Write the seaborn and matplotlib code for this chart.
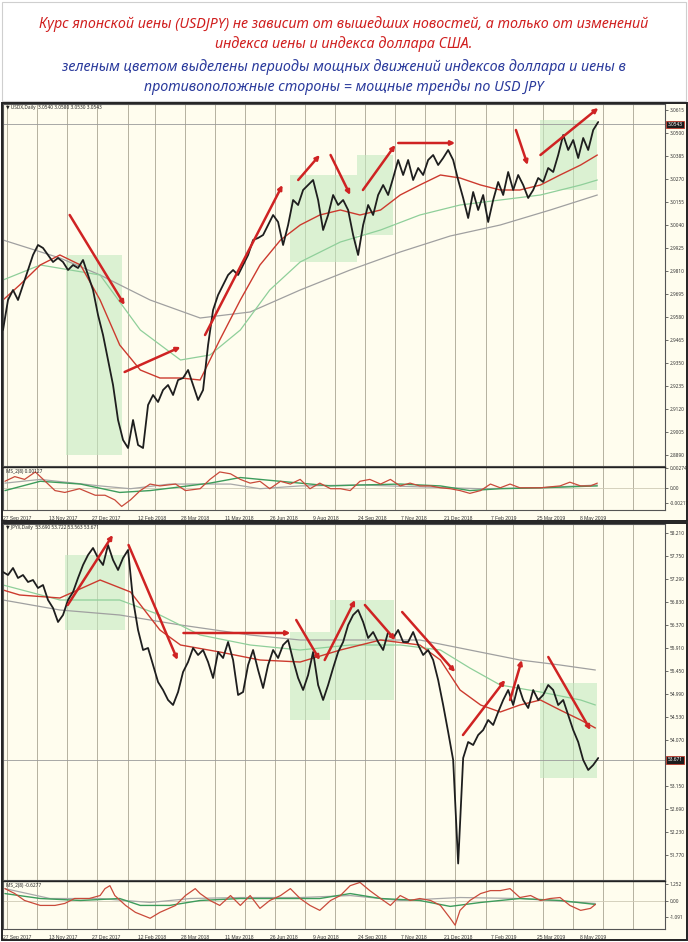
import numpy as np
import pandas as pd
import matplotlib.pyplot as plt
from matplotlib.patches import Rectangle
import seaborn as sns

sns.set_theme(style='white')
plt.rcParams['font.family'] = ['Noto Sans', 'DejaVu Sans']

# ---------------- тексты ----------------
title_red = ['Курс японской иены (USDJPY) не зависит от вышедших новостей, а только от изменений',
             'индекса иены и индекса доллара США.']
title_blue = ['зеленым цветом выделены периоды мощных движений индексов доллара и иены в',
              'противоположные стороны = мощные тренды по USD JPY']

date_labels = ['27 Sep 2017', '13 Nov 2017', '27 Dec 2017', '12 Feb 2018', '28 Mar 2018',
               '11 May 2018', '26 Jun 2018', '9 Aug 2018', '24 Sep 2018', '7 Nov 2018',
               '21 Dec 2018', '7 Feb 2019', '25 Mar 2019', '8 May 2019']
start_date = '2017-09-27'
price_step = 5.1  # дней между точками закрытия

# ---------------- верхний график: индекс доллара ----------------
usd_header = 'USDX,Daily  3.0540 3.0580 3.0530 3.0543'
usd_ind_header = 'MS_2(8) 0.00127'
usd_close = [2.9515, 2.9665, 2.9715, 2.9665, 2.9740, 2.9815, 2.9890, 2.9940, 2.9925, 2.9890,
             2.9855, 2.9875, 2.9855, 2.9815, 2.9840, 2.9825, 2.9865, 2.9790, 2.9715, 2.9590,
             2.9490, 2.9365, 2.9240, 2.9065, 2.8965, 2.8925, 2.9065, 2.8940, 2.8925, 2.9140,
             2.9190, 2.9155, 2.9215, 2.9240, 2.9190, 2.9265, 2.9275, 2.9315, 2.9240, 2.9165,
             2.9215, 2.9440, 2.9615, 2.9690, 2.9740, 2.9790, 2.9815, 2.9790, 2.9840, 2.9890,
             2.9965, 2.9975, 2.9990, 3.0040, 3.0090, 3.0055, 2.9940, 3.0040, 3.0165, 3.0140,
             3.0215, 3.0240, 3.0265, 3.0165, 3.0015, 3.0090, 3.0190, 3.0140, 3.0165, 3.0115,
             2.9990, 2.9890, 3.0040, 3.0140, 3.0090, 3.0190, 3.0240, 3.0190, 3.0275, 3.0365,
             3.0290, 3.0365, 3.0265, 3.0325, 3.0290, 3.0365, 3.0390, 3.0340, 3.0375, 3.0415,
             3.0365, 3.0265, 3.0175, 3.0075, 3.0205, 3.0115, 3.0190, 3.0055, 3.0165, 3.0255,
             3.0190, 3.0305, 3.0215, 3.0290, 3.0240, 3.0175, 3.0215, 3.0275, 3.0255, 3.0325,
             3.0305, 3.0390, 3.0490, 3.0415, 3.0465, 3.0375, 3.0475, 3.0415, 3.0515, 3.0555]
usd_last = 3.0543
usd_ma_red_days = [0, 17, 38, 58, 79, 99, 119, 140, 160, 181, 201, 221, 242, 262, 283, 303,
                   323, 344, 364, 385, 405, 425, 446, 466, 487, 507, 527, 548, 568, 589, 606]
usd_ma_red = [2.9665, 2.9740, 2.9840, 2.9890, 2.9840, 2.9665, 2.9440, 2.9315, 2.9275, 2.9275,
              2.9265, 2.9465, 2.9665, 2.9840, 2.9965, 3.0040, 3.0090, 3.0115, 3.0090, 3.0115,
              3.0190, 3.0240, 3.0290, 3.0275, 3.0240, 3.0215, 3.0215, 3.0240, 3.0290, 3.0340, 3.0390]
usd_ma_green_days = [0, 38, 99, 140, 181, 211, 242, 272, 303, 344, 385, 425, 466, 507, 548, 589, 606]
usd_ma_green = [2.9765, 2.9840, 2.9790, 2.9515, 2.9365, 2.9390, 2.9515, 2.9715, 2.9855,
                2.9955, 3.0015, 3.0090, 3.0140, 3.0165, 3.0190, 3.0240, 3.0265]
usd_ma_gray_days = [0, 58, 99, 150, 201, 252, 303, 354, 405, 456, 507, 558, 606]
usd_ma_gray = [2.9965, 2.9875, 2.9790, 2.9665, 2.9575, 2.9605, 2.9715, 2.9815, 2.9905,
               2.9985, 3.0040, 3.0115, 3.0190]
usd_ind_red_days = [2, 12, 22, 33, 43, 53, 63, 78, 94, 104, 114, 121, 130, 140, 150, 160, 176,
                    186, 201, 211, 221, 232, 242, 252, 262, 272, 283, 293, 303, 313, 323, 334,
                    344, 354, 364, 374, 385, 395, 405, 415, 425, 436, 446, 456, 466, 476, 487,
                    497, 507, 517, 527, 538, 548, 558, 568, 578, 589, 599, 606]
usd_ind_red = [0.00091, 0.00156, 0.00117, 0.00221, 0.00091, -0.00039, -0.00065, -0.00013,
               -0.00104, -0.00104, -0.00169, -0.0026, -0.00169, -0.00039, 0.00052, 0.00026,
               0.00052, -0.00039, -0.00013, 0.00117, 0.00221, 0.00195, 0.00117, 0.00065,
               0.00091, -0.00013, 0.00091, 0.00052, 0.00117, -0.00013, 0.00065, -0.00013,
               -0.00013, -0.00039, 0.00091, 0.00117, 0.00052, 0.00117, 0.00026, 0.00065,
               0.00026, 0.00026, 0.0, -0.00013, -0.00039, -0.00078, -0.00039, 0.00052, 0.0,
               0.00052, 0.0, 0.0, 0.0, 0.00013, 0.00026, 0.00078, 0.00026, 0.00026, 0.00065]
usd_ind_green_days = [2, 38, 79, 119, 150, 181, 211, 242, 272, 303, 334, 364, 405, 446, 476, 507, 548, 606]
usd_ind_green = [-0.00039, 0.00091, 0.00052, -0.00065, -0.00039, 0.00013, 0.00065, 0.00143,
                 0.00104, 0.00065, 0.00026, 0.00039, 0.00052, 0.00026, -0.00039, -0.00013, 0.0, 0.00026]
usd_ind_gray_days = [2, 38, 99, 130, 170, 232, 262, 303, 364, 425, 487, 548, 606]
usd_ind_gray = [0.00065, 0.00117, 0.00026, -0.00013, 0.00052, 0.00052, -0.00013, 0.00026,
                0.00039, 0.00013, -0.00013, 0.0, 0.00039]
usd_ticks = [3.0615 - 0.0115 * k for k in range(16)]
usd_ind_ticks = [0.00274, 0.0, -0.00217]
usd_ind_ticklabels = ['0.00274', '0.00', '-0.00217']
# зоны (день начала, день конца, низ, верх)
usd_zones = [(64, 121, 2.8890, 2.9890), (293, 361, 2.9855, 3.0290),
             (361, 398, 2.9990, 3.0390), (548, 606, 3.0215, 3.0565)]
# стрелки (день0, цена0, день1, цена1)
usd_arrows = [(68, 3.0090, 124, 2.9640), (124, 2.9305, 181, 2.9430), (206, 2.9490, 285, 3.0240),
              (301, 3.0265, 323, 3.0390), (334, 3.0390, 354, 3.0190), (367, 3.0215, 400, 3.0440),
              (403, 3.0450, 461, 3.0450), (523, 3.0515, 535, 3.0340), (548, 3.0390, 607, 3.0625)]

# ---------------- нижний график: индекс иены ----------------
jpy_header = 'JPYX,Daily  53.690 53.722 53.563 53.671'
jpy_ind_header = 'MS_2(8) -0.6277'
jpy_close = [57.43, 57.37, 57.51, 57.31, 57.37, 57.23, 57.27, 57.11, 57.17, 56.87,
             56.71, 56.43, 56.57, 56.87, 57.03, 57.31, 57.57, 57.77, 57.91, 57.71,
             57.57, 57.97, 57.67, 57.47, 57.71, 57.87, 56.87, 56.27, 55.87, 55.91,
             55.57, 55.23, 55.07, 54.87, 54.77, 55.03, 55.43, 55.63, 55.91, 55.77,
             55.87, 55.63, 55.31, 55.83, 55.71, 56.03, 55.67, 54.97, 55.03, 55.57,
             55.87, 55.47, 55.11, 55.57, 55.87, 55.71, 55.97, 56.07, 55.67, 55.31,
             55.07, 55.37, 55.83, 55.17, 54.87, 55.17, 55.51, 55.83, 56.03, 56.37,
             56.57, 56.67, 56.43, 56.11, 56.23, 56.03, 55.87, 56.23, 56.11, 56.27,
             56.03, 56.03, 56.23, 55.97, 55.77, 55.87, 55.67, 55.27, 54.77, 54.23,
             53.67, 51.60, 53.71, 54.03, 53.97, 54.17, 54.27, 54.47, 54.37, 54.63,
             54.87, 55.07, 54.77, 55.17, 54.87, 54.71, 55.07, 54.87, 54.97, 55.17,
             55.07, 54.77, 54.87, 54.57, 54.27, 54.03, 53.67, 53.47, 53.57, 53.71]
jpy_last = 53.671
jpy_ma_red_days = [0, 17, 58, 99, 130, 160, 181, 221, 262, 303, 344, 385, 425, 446, 466,
                   487, 507, 527, 548, 568, 589, 604]
jpy_ma_red = [57.07, 56.97, 56.91, 57.27, 57.03, 56.27, 55.97, 55.83, 55.67, 55.63, 55.87,
              56.07, 55.97, 55.67, 55.07, 54.77, 54.63, 54.77, 54.87, 54.67, 54.47, 54.31]
jpy_ma_green_days = [0, 58, 119, 160, 201, 252, 303, 354, 405, 446, 476, 507, 548, 589, 604]
jpy_ma_green = [57.17, 56.87, 56.87, 56.57, 56.17, 55.97, 55.87, 55.97, 55.97, 55.87, 55.51,
                55.17, 55.03, 54.87, 54.77]
jpy_ma_gray_days = [0, 58, 119, 181, 252, 303, 354, 425, 476, 527, 568, 604]
jpy_ma_gray = [56.87, 56.67, 56.57, 56.37, 56.17, 56.07, 56.07, 56.07, 55.87, 55.67, 55.57, 55.47]
jpy_ind_red_days = [2, 12, 22, 38, 53, 63, 73, 88, 99, 104, 109, 114, 125, 135, 150, 160, 176,
                    186, 196, 201, 211, 221, 232, 242, 252, 262, 272, 283, 293, 303, 313, 323,
                    334, 344, 354, 364, 374, 385, 395, 405, 415, 425, 436, 446, 456, 461, 466,
                    476, 487, 497, 507, 517, 527, 538, 548, 558, 568, 578, 589, 599, 604]
jpy_ind_red = [0.91, 0.56, 0.07, -0.28, -0.28, -0.14, 0.21, 0.21, 0.42, 0.91,
               1.12, 0.42, -0.28, -0.77, -1.19, -0.77, -0.28, 0.42, 0.91, 0.56,
               0.07, -0.28, 0.42, -0.28, 0.42, -0.49, 0.07, 0.42, 0.91, 0.21,
               -0.28, -0.63, 0.07, 0.42, 1.12, 1.35, 0.77, 0.21, -0.28, 0.42,
               0.07, 0.21, 0.07, -0.28, -1.19, -1.68, -0.63, 0.07, 0.56, 0.77,
               0.77, 0.91, 0.28, 0.42, 0.07, 0.21, 0.28, -0.28, -0.63, -0.49, -0.21]
jpy_ind_green_days = [2, 38, 79, 119, 140, 170, 201, 242, 283, 323, 354, 385, 425, 456, 487, 527, 568, 604]
jpy_ind_green = [0.56, 0.21, 0.07, 0.21, -0.28, -0.28, 0.07, 0.21, 0.21, 0.21, 0.56, 0.21,
                 0.07, -0.35, -0.07, 0.21, 0.07, -0.21]
jpy_ind_gray_days = [2, 48, 99, 150, 191, 242, 303, 354, 405, 466, 527, 604]
jpy_ind_gray = [0.91, 0.21, 0.21, -0.07, 0.21, 0.28, 0.28, 0.42, 0.07, 0.28, 0.21, -0.14]
jpy_ticks = [58.21 - 0.46 * k for k in range(15) if k != 10]
jpy_ind_ticks = [1.252, 0.0, -1.091]
jpy_ind_ticklabels = ['1.252', '0.00', '-1.091']
jpy_zones = [(63, 124, 56.27, 57.77), (293, 333, 54.47, 56.23),
             (333, 399, 54.87, 56.87), (548, 606, 53.31, 55.21)]
jpy_arrows = [(66, 56.77, 112, 58.17), (128, 57.97, 178, 55.67), (184, 56.21, 293, 56.21),
              (299, 56.47, 323, 55.67), (328, 55.67, 359, 56.87), (369, 56.77, 400, 56.07),
              (407, 56.63, 461, 55.43), (469, 54.17, 512, 55.27), (517, 54.87, 529, 55.67),
              (556, 55.73, 599, 54.27)]

# ---------------- оформление ----------------
BG = '#fffdee'
GREEN_ZONE = '#c4eac0'
RED = '#cf2323'
W, H = 688, 942

fig = plt.figure(figsize=(W / 100, H / 100), dpi=100)
fig.patch.set_facecolor('white')


def px_axes(x0, y0, x1, y1):
    return fig.add_axes([x0 / W, 1 - y1 / H, (x1 - x0) / W, (y1 - y0) / H])


# заголовок
fig.add_artist(Rectangle((2 / W, 1 - 101 / H), 684 / W, 99 / H, transform=fig.transFigure,
                         fc='white', ec='#cfcfcf', lw=0.8, zorder=-10))
for i, t in enumerate(title_red):
    fig.text(0.5, 1 - (24 + 20 * i) / H, t, ha='center', va='center', color='#d01f1f',
             fontsize=10.3, style='italic', weight='medium')
for i, t in enumerate(title_blue):
    fig.text(0.5, 1 - (67 + 20 * i) / H, t, ha='center', va='center', color='#2a3a9c',
             fontsize=10.3, style='italic', weight='medium')

x0 = pd.Timestamp(start_date)
tick_days = [(pd.Timestamp(d) - x0).days for d in date_labels]
month_days = [(d - x0).days for d in pd.date_range('2017-10-01', '2019-07-01', freq='MS')]
x_max = 675


def style_axis(ax):
    ax.set_facecolor(BG)
    ax.set_xlim(0, x_max)
    for d in month_days:
        ax.axvline(d, color='#aaa592', lw=0.6, zorder=0.5)
    for s in ax.spines.values():
        s.set_color('#555555')
        s.set_linewidth(0.8)
    ax.yaxis.tick_right()
    ax.tick_params(axis='y', labelsize=3.4, colors='#333333', length=2, width=0.5, pad=1.2)
    ax.set_xlabel('')
    ax.set_ylabel('')


def draw_chart(top, bottom, close, last, fmt, ticks, ylim, header,
               ma, zones, arrows, ind, ind_header, ind_ticks, ind_labels, ind_ylim, line_y):
    # подложка и рамка панели
    fig.add_artist(Rectangle((2 / W, 1 - bottom / H), 685 / W, (bottom - top) / H,
                             transform=fig.transFigure, fc=BG, ec='none', zorder=-5))
    fig.add_artist(Rectangle((2 / W, 1 - bottom / H), 685 / W, (bottom - top) / H,
                             transform=fig.transFigure, fc='none', ec='#222222', lw=1.4, zorder=10))
    ax = px_axes(3, top + 1, 665, line_y)
    ax_i = px_axes(3, line_y + 1, 665, bottom - 11)
    style_axis(ax)
    style_axis(ax_i)

    price_days = np.arange(len(close)) * price_step
    for d0, d1, lo, hi in zones:
        ax.add_patch(Rectangle((d0, lo), d1 - d0, hi - lo, fc=GREEN_ZONE, alpha=0.6,
                               ec='none', zorder=1))
    ax.axhline(last, color='#9a9a9a', lw=0.6, zorder=1.5)
    for (dd, vv), col, lw in zip(ma, ['#a0a0a0', '#8fcf9a', '#cc3a2e'], [0.9, 0.9, 1.0]):
        sns.lineplot(x=dd, y=vv, ax=ax, color=col, lw=lw, zorder=2)
    sns.lineplot(x=price_days, y=close, ax=ax, color='#1e1e1e', lw=1.3, zorder=3)
    for d0, v0, d1, v1 in arrows:
        ax.annotate('', xy=(d1, v1), xytext=(d0, v0),
                    arrowprops=dict(arrowstyle='-|>', color=RED, lw=1.8,
                                    mutation_scale=6, shrinkA=0, shrinkB=0), zorder=4)
    ax.set_ylim(*ylim)
    ax.set_yticks(ticks)
    ax.set_yticklabels([fmt.format(t) for t in ticks])
    ax.set_xticks([])
    ax.text(0.004, 0.997, '\u25bc ' + header, transform=ax.transAxes, va='top', ha='left',
            fontsize=3.4, color='#222222')
    ax.text(1.004, last, fmt.format(last), transform=ax.get_yaxis_transform(), ha='left',
            va='center', fontsize=3.4, color='white', weight='bold',
            bbox=dict(boxstyle='square,pad=0.25', fc='#1c1c1c', ec='#c0392b', lw=0.6))

    ax_i.axhline(0, color='#cfcab5', lw=0.6)
    for (dd, vv), col, lw in zip(ind, ['#a8a8a8', '#3d9c5c', '#c94a3a'], [0.9, 1.0, 0.9]):
        sns.lineplot(x=dd, y=vv, ax=ax_i, color=col, lw=lw)
    ax_i.set_ylim(*ind_ylim)
    ax_i.set_yticks(ind_ticks)
    ax_i.set_yticklabels(ind_labels)
    ax_i.set_xticks(tick_days)
    ax_i.set_xticklabels(date_labels, ha='left', fontfamily='Liberation Sans')
    ax_i.tick_params(axis='x', labelsize=3.6, colors='#333333', length=2, width=0.5, pad=2.0)
    ax_i.text(0.004, 0.96, ind_header, transform=ax_i.transAxes, va='top', ha='left',
              fontsize=3.4, color='#222222')
    ax_i.spines['top'].set_color('#222222')
    ax_i.spines['top'].set_linewidth(1.0)


draw_chart(103, 521, usd_close, usd_last, '{:.4f}', usd_ticks, (2.8835, 3.0645), usd_header,
           [(usd_ma_gray_days, usd_ma_gray), (usd_ma_green_days, usd_ma_green),
            (usd_ma_red_days, usd_ma_red)],
           usd_zones, usd_arrows,
           [(usd_ind_gray_days, usd_ind_gray), (usd_ind_green_days, usd_ind_green),
            (usd_ind_red_days, usd_ind_red)],
           usd_ind_header, usd_ind_ticks, usd_ind_ticklabels, (-0.0031, 0.0029), 466)

draw_chart(523, 940, jpy_close, jpy_last, '{:.3f}', jpy_ticks, (51.27, 58.39), jpy_header,
           [(jpy_ma_gray_days, jpy_ma_gray), (jpy_ma_green_days, jpy_ma_green),
            (jpy_ma_red_days, jpy_ma_red)],
           jpy_zones, jpy_arrows,
           [(jpy_ind_gray_days, jpy_ind_gray), (jpy_ind_green_days, jpy_ind_green),
            (jpy_ind_red_days, jpy_ind_red)],
           jpy_ind_header, jpy_ind_ticks, jpy_ind_ticklabels, (-1.95, 1.45), 880)

fig.savefig('out.png', dpi=100, facecolor='white')
